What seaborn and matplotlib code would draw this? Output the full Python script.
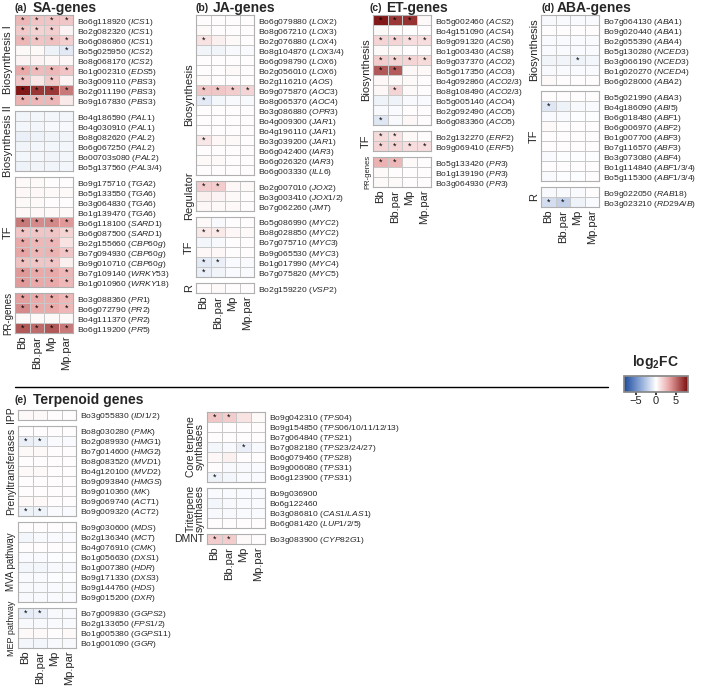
import numpy as np
import pandas as pd
import matplotlib.pyplot as plt
import seaborn as sns
from matplotlib.colors import LinearSegmentedColormap, Normalize
from matplotlib.cm import ScalarMappable
from matplotlib.lines import Line2D

sns.set_theme(style="white")
plt.rcParams["font.family"] = ["Liberation Sans", "DejaVu Sans"]
plt.rcParams["mathtext.fontset"] = "custom"
plt.rcParams["mathtext.rm"] = "Liberation Sans"
plt.rcParams["mathtext.it"] = "Liberation Sans:italic"
plt.rcParams["mathtext.bf"] = "Liberation Sans:bold"

W, H = 709, 689
ROW, GAP, COLW = 10, 6, 14.6

conditions = ["Bb", "Bb.par", "Mp", "Mp.par"]

# ---- (a) SA-genes
sa_bio1_genes = [("Bo6g118920", "ICS1"), ("Bo2g082320", "ICS1"), ("Bo6g086860", "ICS1"),
                 ("Bo5g025950", "ICS2"), ("Bo8g068170", "ICS2"), ("Bo1g002310", "EDS5"),
                 ("Bo3g009110", "PBS3"), ("Bo2g011190", "PBS3"), ("Bo9g167830", "PBS3")]
sa_bio1_vals = [[2.6, 2.1, 2.1, 2.0], [1.9, 1.6, 1.7, 0.4], [2.6, 2.1, 2.2, 1.7],
                [0.2, 0.2, -0.6, -1.0], [0.4, 0.4, 0.3, 0.3], [3.0, 2.4, 2.5, 2.1],
                [2.1, 0.9, 1.9, 0.4], [7.6, 6.6, 6.6, 4.6], [2.7, 2.5, 2.6, 0.8]]
sa_bio1_sig = ["1111", "1110", "1111", "0001", "0000", "1111", "1010", "1111", "1110"]

sa_bio2_genes = [("Bo4g186590", "PAL1"), ("Bo4g030910", "PAL1"), ("Bo8g082620", "PAL2"),
                 ("Bo6g067250", "PAL2"), ("Bo00703s080", "PAL2"), ("Bo5g137560", "PAL3/4")]
sa_bio2_vals = [[-0.5, -0.4, -0.4, -0.4], [-0.4, -0.4, -0.3, -0.3], [-0.7, -0.6, -0.5, -0.5],
                [-0.5, -0.4, -0.4, -0.4], [-0.4, -0.4, -0.5, -0.4], [-0.6, -0.5, -0.5, -0.4]]
sa_bio2_sig = ["0000"] * 6

sa_tf_genes = [("Bo9g175710", "TGA2"), ("Bo5g133550", "TGA6"), ("Bo3g064830", "TGA6"),
               ("Bo1g139470", "TGA6"), ("Bo6g118100", "SARD1"), ("Bo6g087500", "SARD1"),
               ("Bo2g155660", "CBP60g"), ("Bo7g094930", "CBP60g"), ("Bo9g010710", "CBP60g"),
               ("Bo7g109140", "WRKY53"), ("Bo1g010960", "WRKY18")]
sa_tf_vals = [[0.2, 0.2, 0.1, 0.1], [0.3, 0.3, 0.2, 0.2], [0.2, 0.2, 0.1, 0.1],
              [0.3, 0.3, 0.2, 0.2], [4.6, 4.0, 4.1, 3.6], [2.1, 2.0, 2.1, 1.6],
              [3.1, 2.5, 2.6, 1.0], [3.2, 2.6, 2.7, 2.1], [2.2, 2.0, 2.1, 0.5],
              [3.6, 3.0, 3.1, 2.6], [3.5, 3.0, 3.0, 2.5]]
sa_tf_sig = ["0000", "0000", "0000", "0000", "1111", "1111", "1110", "1111", "1110", "1111", "1111"]

sa_pr_genes = [("Bo3g088360", "PR1"), ("Bo6g072790", "PR2"), ("Bo4g111370", "PR2"), ("Bo6g119200", "PR5")]
sa_pr_vals = [[3.4, 3.0, 3.0, 2.5], [4.0, 3.0, 3.0, 2.5], [0.2, 0.2, 0.2, 0.2], [5.6, 5.0, 5.6, 4.6]]
sa_pr_sig = ["1111", "1111", "0000", "1111"]

# ---- (b) JA-genes
ja_bio_genes = [("Bo6g079880", "LOX2"), ("Bo8g067210", "LOX3"), ("Bo2g076880", "LOX4"),
                ("Bo8g104870", "LOX3/4"), ("Bo6g098790", "LOX6"), ("Bo2g056010", "LOX6"),
                ("Bo2g116210", "AOS"), ("Bo9g075870", "AOC3"), ("Bo8g065370", "AOC4"),
                ("Bo3g086880", "OPR3"), ("Bo4g009300", "JAR1"), ("Bo4g196110", "JAR1"),
                ("Bo3g039200", "JAR1"), ("Bo6g042400", "IAR3"), ("Bo6g026320", "IAR3"),
                ("Bo6g003330", "ILL6")]
ja_bio_vals = [[0.1, 0.1, 0.1, 0.1], [0.2, 0.1, 0.1, 0.1], [1.0, 0.5, 0.2, 0.1],
               [-0.5, -0.5, -0.3, -0.2], [0.1, 0.1, 0.1, 0.1], [0.1, 0.1, 0.2, 0.1],
               [0.2, 0.1, 0.1, 0.1], [2.0, 2.0, 1.8, 1.5], [-0.9, -0.4, -0.3, -0.3],
               [0.1, 0.1, 0.1, 0.1], [0.1, 0.1, 0.1, 0.1], [0.1, 0.1, 0.1, 0.1],
               [0.9, 0.3, 0.2, 0.1], [0.1, 0.1, 0.1, 0.1], [0.2, 0.2, 0.1, 0.1],
               [0.1, 0.1, 0.1, 0.1]]
ja_bio_sig = ["0000", "0000", "1000", "0000", "0000", "0000", "0000", "1111",
              "1000", "0000", "0000", "0000", "1000", "0000", "0000", "0000"]

ja_reg_genes = [("Bo2g007010", "JOX2"), ("Bo3g003410", "JOX1/2"), ("Bo7g062260", "JMT")]
ja_reg_vals = [[1.8, 1.8, 0.3, 0.2], [0.5, 0.4, 0.2, 0.1], [0.3, 0.2, 0.2, 0.1]]
ja_reg_sig = ["1100", "0000", "0000"]

ja_tf_genes = [("Bo5g086990", "MYC2"), ("Bo8g028850", "MYC2"), ("Bo7g075710", "MYC3"),
               ("Bo9g065530", "MYC3"), ("Bo1g017990", "MYC4"), ("Bo7g075820", "MYC5")]
ja_tf_vals = [[0.2, -0.3, 0.1, 0.1], [0.8, 0.8, 0.3, 0.2], [-0.4, -0.3, 0.1, 0.1],
              [0.3, 0.3, 0.1, 0.1], [-0.9, -0.7, -0.2, -0.2], [-0.7, -0.5, -0.2, -0.2]]
ja_tf_sig = ["0000", "1100", "0000", "0000", "1100", "1000"]

ja_r_genes = [("Bo2g159220", "VSP2")]
ja_r_vals = [[0.1, 0.2, 0.1, 0.1]]
ja_r_sig = ["0000"]

# ---- (c) ET-genes
et_bio_genes = [("Bo5g002460", "ACS2"), ("Bo4g151090", "ACS4"), ("Bo9g091320", "ACS6"),
                ("Bo1g003430", "ACS8"), ("Bo9g037370", "ACO2"), ("Bo5g017350", "ACO3"),
                ("Bo4g092860", "ACO2/3"), ("Bo8g108490", "ACO2/3"), ("Bo5g005140", "ACO4"),
                ("Bo2g092490", "ACO5"), ("Bo6g083360", "ACO5")]
et_bio_vals = [[7.6, 6.6, 6.8, 0.2], [0.2, 0.1, 0.1, 0.1], [1.5, 1.5, 1.2, 1.2],
               [0.2, 0.2, 0.1, 0.1], [1.8, 1.6, 1.5, 1.3], [5.6, 5.5, 0.3, 0.2],
               [0.3, 0.2, 0.2, 0.1], [0.3, 1.5, 0.2, 0.1], [-0.6, -0.6, -0.3, -0.2],
               [-0.3, -0.2, 0.1, 0.1], [-1.1, -0.3, 0.3, 0.1]]
et_bio_sig = ["1110", "0000", "1111", "0000", "1111", "1100", "0000", "0100", "0000", "0000", "1000"]

et_tf_genes = [("Bo2g132270", "ERF2"), ("Bo9g069410", "ERF5")]
et_tf_vals = [[1.3, 1.0, 0.2, 0.1], [1.5, 1.5, 1.2, 1.2]]
et_tf_sig = ["1100", "1111"]

et_pr_genes = [("Bo5g133420", "PR3"), ("Bo1g139190", "PR3"), ("Bo3g064930", "PR3")]
et_pr_vals = [[2.8, 2.6, 0.2, 0.1], [0.2, 0.1, 0.1, 0.1], [0.2, 0.2, 0.1, 0.1]]
et_pr_sig = ["1100", "0000", "0000"]

# ---- (d) ABA-genes
aba_bio_genes = [("Bo7g064130", "ABA1"), ("Bo9g020440", "ABA1"), ("Bo2g055390", "ABA4"),
                 ("Bo5g130280", "NCED3"), ("Bo3g066190", "NCED3"), ("Bo1g020270", "NCED4"),
                 ("Bo6g028000", "ABA2")]
aba_bio_vals = [[-0.3, -0.2, -0.2, -0.2], [0.1, 0.1, 0.1, 0.1], [-0.2, -0.2, -0.2, -0.2],
                [-0.2, -0.2, -0.2, -0.2], [-0.5, -0.5, -0.6, -0.4], [-0.3, -0.2, -0.2, -0.2],
                [0.2, 0.1, 0.1, 0.1]]
aba_bio_sig = ["0000", "0000", "0000", "0000", "0010", "0000", "0000"]

aba_tf_genes = [("Bo5g021990", "ABA3"), ("Bo4g186090", "ABI5"), ("Bo6g018480", "ABF1"),
                ("Bo6g006970", "ABF2"), ("Bo1g007700", "ABF3"), ("Bo7g116570", "ABF3"),
                ("Bo3g073080", "ABF4"), ("Bo1g114840", "ABF1/3/4"), ("Bo5g115300", "ABF1/3/4")]
aba_tf_vals = [[0.1, 0.1, 0.1, 0.1], [-1.1, -0.6, -0.3, -0.2], [-0.2, -0.2, -0.1, -0.1],
               [0.2, 0.1, 0.1, 0.1], [0.1, 0.1, 0.1, 0.1], [0.1, 0.1, 0.1, 0.1],
               [-0.2, -0.1, -0.1, -0.1], [0.1, 0.1, 0.1, 0.1], [-0.2, -0.1, -0.1, 0.1]]
aba_tf_sig = ["0000", "1000", "0000", "0000", "0000", "0000", "0000", "0000", "0000"]

aba_r_genes = [("Bo9g022050", "RAB18"), ("Bo3g023210", "RD29A/B")]
aba_r_vals = [[-0.3, -0.3, -0.2, 0.1], [-1.5, -2.1, -0.6, -0.2]]
aba_r_sig = ["0000", "1100"]

# ---- (e) Terpenoid genes
tp_ipp_genes = [("Bo3g055830", "IDI1/2")]
tp_ipp_vals = [[0.2, 0.2, 0.1, 0.1]]
tp_ipp_sig = ["0000"]

tp_pren_genes = [("Bo8g030280", "PMK"), ("Bo2g089930", "HMG1"), ("Bo7g014600", "HMG2"),
                 ("Bo8g083520", "MVD1"), ("Bo4g120100", "MVD2"), ("Bo9g093840", "HMGS"),
                 ("Bo9g010360", "MK"), ("Bo9g069740", "ACT1"), ("Bo9g009320", "ACT2")]
tp_pren_vals = [[0.1, 0.1, 0.1, 0.1], [-0.7, -0.6, -0.2, -0.2], [0.2, 0.2, 0.1, 0.1],
                [0.1, 0.1, 0.1, 0.1], [0.2, 0.2, 0.1, 0.1], [0.1, 0.1, 0.1, 0.1],
                [0.1, 0.1, 0.1, 0.1], [0.2, 0.2, 0.1, 0.1], [-0.6, -0.6, -0.2, -0.2]]
tp_pren_sig = ["0000", "1100", "0000", "0000", "0000", "0000", "0000", "0000", "1100"]

tp_mva_genes = [("Bo9g030600", "MDS"), ("Bo2g136340", "MCT"), ("Bo4g076910", "CMK"),
                ("Bo1g056630", "DXS1"), ("Bo1g007380", "HDR"), ("Bo9g171330", "DXS3"),
                ("Bo9g144760", "HDS"), ("Bo9g015200", "DXR")]
tp_mva_vals = [[0.1, 0.1, 0.1, 0.1], [-0.4, -0.3, -0.2, -0.2], [0.1, 0.1, 0.1, 0.1],
               [-0.2, -0.2, -0.1, -0.1], [-0.4, -0.4, -0.3, -0.3], [-0.2, -0.2, -0.1, -0.1],
               [-0.3, -0.3, -0.2, -0.2], [-0.3, -0.3, -0.2, -0.2]]
tp_mva_sig = ["0000"] * 8

tp_mep_genes = [("Bo7g009830", "GGPS2"), ("Bo2g133650", "FPS1/2"), ("Bo1g005380", "GGPS11"),
                ("Bo1g001090", "GGR")]
tp_mep_vals = [[-0.8, -0.7, -0.3, -0.3], [-0.3, -0.3, -0.2, -0.2], [0.2, 0.2, 0.1, 0.2],
               [-0.4, -0.4, -0.3, -0.3]]
tp_mep_sig = ["1100", "0000", "0000", "0000"]

tp_core_genes = [("Bo9g042310", "TPS04"), ("Bo9g154850", "TPS06/10/11/12/13"),
                 ("Bo7g064840", "TPS21"), ("Bo7g082180", "TPS23/24/27"), ("Bo6g079460", "TPS28"),
                 ("Bo9g006080", "TPS31"), ("Bo6g123900", "TPS31")]
tp_core_vals = [[2.0, 1.8, 1.0, 0.2], [0.1, 0.1, 0.1, 0.1], [0.1, 0.1, 0.1, 0.1],
                [-0.4, -0.3, -0.7, -0.3], [0.3, 0.5, 0.1, 0.1], [0.1, -0.3, -0.3, -0.2],
                [-0.6, -0.4, -0.2, -0.2]]
tp_core_sig = ["1100", "0000", "0000", "0010", "0000", "0000", "1000"]

tp_tri_genes = [("Bo9g036900", ""), ("Bo6g122460", ""), ("Bo3g086810", "CAS1/LAS1"),
                ("Bo6g081420", "LUP1/2/5")]
tp_tri_vals = [[-0.2, -0.2, -0.2, -0.2], [-0.4, -0.3, -0.2, -0.2], [-0.3, -0.3, -0.2, -0.2],
               [0.1, 0.1, 0.1, 0.1]]
tp_tri_sig = ["0000"] * 4

tp_dmnt_genes = [("Bo3g083900", "CYP82G1")]
tp_dmnt_vals = [[1.8, 1.8, 0.2, 0.1]]
tp_dmnt_sig = ["1100"]

cmap = LinearSegmentedColormap.from_list(
    "fc", [(0, "#1e4b9b"), (0.25, "#8aa6d6"), (0.5, "#ffffff"), (0.7, "#e9a6a6"), (1, "#7a0c0c")])
VMIN, VMAX = -8, 8

fig = plt.figure(figsize=(W / 100, H / 100), dpi=100)


def px_axes(x, y, w, h):
    return fig.add_axes([x / W, 1 - (y + h) / H, w / W, h / H])


def draw_group(x, y, genes, vals, sig, label, fs, last, horiz=False):
    n = len(genes)
    ax = px_axes(x, y, 4 * COLW, n * ROW)
    labels = [f"{g} ($\\mathit{{{nm}}}$)" if nm else g for g, nm in genes]
    df = pd.DataFrame(vals, index=labels, columns=conditions)
    ann = np.array([["*" if c == "1" else "" for c in s] for s in sig])
    sns.heatmap(df, ax=ax, cmap=cmap, vmin=VMIN, vmax=VMAX, cbar=False,
                annot=ann, fmt="", annot_kws={"fontsize": 6.5, "color": "black"},
                linewidths=0.6, linecolor="#c8c8c8")
    ax.yaxis.tick_right()
    ax.set_yticks(np.arange(n) + 0.5)
    ax.set_yticklabels(labels, rotation=0, fontsize=6.1)
    ax.tick_params(axis="y", length=0, pad=2.5)
    if last:
        ax.set_xticks(np.arange(4) + 0.5)
        ax.set_xticklabels(conditions, rotation=90, fontsize=8)
        ax.tick_params(axis="x", length=0, pad=2)
    else:
        ax.set_xticks([])
    ax.set_xlabel("")
    ax.yaxis.set_label_position("left")
    if horiz:
        ax.set_ylabel(label, fontsize=fs, rotation=0, ha="right", va="center", labelpad=2)
    else:
        ax.set_ylabel(label, fontsize=fs, labelpad=1.5, linespacing=0.9)
    for s in ax.spines.values():
        s.set_visible(True)
        s.set_color("#b0b0b0")
        s.set_linewidth(0.8)
    return y + n * ROW + GAP


def draw_panel(x, y, groups):
    for i, g in enumerate(groups):
        y = draw_group(x, y, *g, last=(i == len(groups) - 1))


draw_panel(15, 15, [
    (sa_bio1_genes, sa_bio1_vals, sa_bio1_sig, "Biosynthesis I", 8),
    (sa_bio2_genes, sa_bio2_vals, sa_bio2_sig, "Biosynthesis II", 8),
    (sa_tf_genes, sa_tf_vals, sa_tf_sig, "TF", 8),
    (sa_pr_genes, sa_pr_vals, sa_pr_sig, "PR-genes", 7),
])
draw_panel(196, 15, [
    (ja_bio_genes, ja_bio_vals, ja_bio_sig, "Biosynthesis", 8),
    (ja_reg_genes, ja_reg_vals, ja_reg_sig, "Regulator", 8),
    (ja_tf_genes, ja_tf_vals, ja_tf_sig, "TF", 8),
    (ja_r_genes, ja_r_vals, ja_r_sig, "R", 8),
])
draw_panel(373, 15, [
    (et_bio_genes, et_bio_vals, et_bio_sig, "Biosynthesis", 8),
    (et_tf_genes, et_tf_vals, et_tf_sig, "TF", 8),
    (et_pr_genes, et_pr_vals, et_pr_sig, "PR-genes", 5.5),
])
draw_panel(541, 15, [
    (aba_bio_genes, aba_bio_vals, aba_bio_sig, "Biosynthesis", 8),
    (aba_tf_genes, aba_tf_vals, aba_tf_sig, "TF", 8),
    (aba_r_genes, aba_r_vals, aba_r_sig, "R", 8),
])
draw_panel(18, 410, [
    (tp_ipp_genes, tp_ipp_vals, tp_ipp_sig, "IPP", 7.5),
    (tp_pren_genes, tp_pren_vals, tp_pren_sig, "Prenyltransferases", 7.5),
    (tp_mva_genes, tp_mva_vals, tp_mva_sig, "MVA pathway", 7),
    (tp_mep_genes, tp_mep_vals, tp_mep_sig, "MEP pathway", 6.5),
])
y = draw_group(207, 412, tp_core_genes, tp_core_vals, tp_core_sig, "Core terpene\nsynthases", 7.5, False)
y = draw_group(207, y, tp_tri_genes, tp_tri_vals, tp_tri_sig, "Triterpene\nsynthases", 7.5, False)
draw_group(207, y, tp_dmnt_genes, tp_dmnt_vals, tp_dmnt_sig, "DMNT", 7.5, True, horiz=True)

# panel titles
titles = [("(a)", "SA-genes", 15, 33, 8), ("(b)", "JA-genes", 195, 213, 8),
          ("(c)", "ET-genes", 370, 386, 8), ("(d)", "ABA-genes", 541, 557, 8),
          ("(e)", "Terpenoid genes", 15, 33, 400)]
for tag, name, xt, xn, yc in titles:
    fig.text(xt / W, 1 - yc / H, tag, fontsize=7.5, weight="bold", ha="left", va="center")
    fig.text(xn / W, 1 - yc / H, name, fontsize=10, weight="bold", ha="left", va="center")

fig.add_artist(Line2D([15 / W, 608 / W], [1 - 387 / H] * 2, transform=fig.transFigure,
                      color="black", lw=1))

cax = px_axes(624, 376, 64, 16)
cb = fig.colorbar(ScalarMappable(norm=Normalize(VMIN, VMAX), cmap=cmap), cax=cax,
                  orientation="horizontal", ticks=[-5, 0, 5])
cb.ax.tick_params(labelsize=8, length=2, pad=1)
cb.outline.set_edgecolor("#888888")
fig.text(655 / W, 1 - 362 / H, r"$\mathbf{log_{2}FC}$", fontsize=10, ha="center", va="center")

fig.savefig("out.png", dpi=100)
